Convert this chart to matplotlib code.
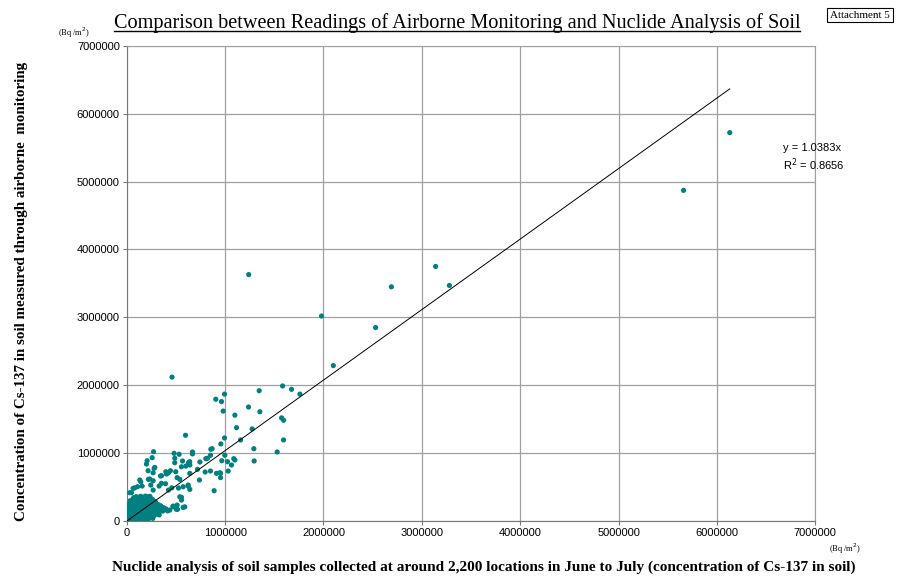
import matplotlib
matplotlib.use('Agg')
import matplotlib.pyplot as plt
from matplotlib.lines import Line2D

# values in thousands of Bq/m2 (soil analysis, airborne monitoring)
outlier_x = [6130, 5660, 3280, 3140, 2690, 2530, 2100, 1980, 1240, 460]
outlier_y = [5720, 4870, 3470, 3750, 3450, 2850, 2290, 3020, 3630, 2120]

mid_x = [1584, 1675, 1760, 1346, 994, 905, 963, 980, 1238, 1353, 1099, 1574, 1594,
         1116, 1275, 1157, 1594, 994, 956, 868, 1292, 1529, 668, 668, 851, 804,
         743, 966, 1088, 1295, 1065, 640,
         597, 272, 481, 532, 855, 207, 200, 258, 488, 488, 627, 641, 820, 278,
         397, 424, 343, 641, 539, 739, 851, 912, 946, 1031, 142, 220, 244, 353,
         48, 64, 109, 268, 624, 641, 888, 539, 556, 516, 573, 437, 471,
         600, 997, 1024, 953, 953, 797, 719, 567, 556, 498, 444, 512, 353, 329,
         394, 458, 424, 526, 573, 624, 556, 590, 505, 512, 471, 156, 81, 30,
         132, 234, 268, 285, 217, 268, 404, 1099]
mid_y = [1990, 1940, 1870, 1920, 1870, 1795, 1760, 1620, 1680, 1610, 1560, 1520, 1485,
         1376, 1357, 1195, 1195, 1224, 1136, 1066, 1066, 1018, 1018, 990, 969, 919,
         870, 889, 919, 885, 826, 875,
         1264, 1022, 998, 984, 1058, 889, 840, 934, 925, 860, 860, 826, 925, 777,
         727, 712, 664, 703, 615, 605, 737, 703, 712, 737, 580, 615, 531, 556,
         418, 482, 506, 457, 531, 467, 447, 358, 310, 173, 202, 162, 221,
         810, 970, 875, 703, 640, 723, 762, 885, 800, 727, 742, 640, 668, 516,
         550, 490, 457, 487, 506, 516, 350, 210, 173, 236, 210, 516, 490, 418,
         605, 620, 712, 790, 742, 594, 693, 900]

blob_x = [8, 25, 45, 62, 85, 110, 130, 150, 175, 195, 220, 240, 265,
          12, 35, 55, 78, 100, 122, 145, 168, 190, 212, 235, 258, 282, 305, 330,
          5, 22, 48, 70, 92, 115, 138, 160, 182, 205, 228, 250, 272, 295, 318, 342, 365, 388,
          15, 38, 60, 82, 105, 128, 150, 172, 195, 218, 240, 262, 285, 308, 330, 355, 378, 400, 415,
          10, 30, 52, 75, 98, 120, 142, 165, 188, 210, 232, 255, 278, 300, 322, 345,
          20, 42, 65, 88, 110, 132, 155, 178, 200, 222, 245, 268, 290,
          35, 58, 80, 102, 125, 148, 170, 192, 215, 238, 260,
          70, 95, 118, 140, 165, 190, 212, 235,
          60, 120, 180, 5, 3]
blob_y = [12, 30, 18, 40, 22, 35, 15, 42, 28, 50, 30, 55, 40,
          55, 70, 52, 75, 60, 80, 68, 90, 75, 95, 82, 100, 85, 105, 92,
          95, 110, 100, 125, 105, 130, 112, 138, 120, 145, 128, 150, 135, 155, 140, 160, 148, 170,
          150, 165, 145, 172, 155, 180, 162, 190, 172, 195, 178, 200, 185, 205, 188, 208, 195, 178, 150,
          200, 215, 195, 225, 205, 232, 212, 240, 222, 248, 230, 252, 235, 255, 240, 225,
          250, 268, 245, 275, 255, 282, 262, 290, 270, 295, 278, 300, 285,
          300, 318, 298, 325, 305, 330, 312, 338, 318, 340, 322,
          345, 360, 348, 365, 352, 368, 355, 365,
          5, 8, 10, 40, 150]

slope = 1.0383
r_squared = 0.8656
x_ticks = [0, 1000000, 2000000, 3000000, 4000000, 5000000, 6000000, 7000000]

teal = '#008080'
grid_c = '#a0a0a0'

all_x = [v * 1000 for v in blob_x + mid_x + outlier_x]
all_y = [v * 1000 for v in blob_y + mid_y + outlier_y]

fig = plt.figure(figsize=(9.12, 5.79), dpi=100)
ax = fig.add_axes([0.139, 0.100, 0.755, 0.821])

ax.scatter(all_x, all_y, s=14, color=teal, edgecolors='none', zorder=3)

x_max = max(all_x)
ax.plot([0, x_max], [0, slope * x_max], color='black', lw=0.7, zorder=4)

ax.set_xlim(0, 7000000)
ax.set_ylim(0, 7000000)
ax.set_xticks(x_ticks)
ax.set_yticks(x_ticks)
ax.set_xticklabels([str(t) for t in x_ticks])
ax.set_yticklabels([str(t) for t in x_ticks])
ax.grid(True, color=grid_c, lw=0.9, zorder=0)
for side in ['top', 'right']:
    ax.spines[side].set_color(grid_c)
for side in ['left', 'bottom']:
    ax.spines[side].set_color('#777777')
ax.tick_params(direction='out', length=3, width=0.8, color='#777777', pad=2,
               labelsize=8)
for lab in ax.get_xticklabels() + ax.get_yticklabels():
    lab.set_family('Liberation Sans')

# trendline label
ax.text(0.953, 0.795, 'y = 1.0383x\nR$^2$ = 0.8656', transform=ax.transAxes,
        ha='left', va='top', fontsize=8, family='Liberation Sans',
        linespacing=1.25, zorder=5)

serif = 'Liberation Serif'
title = fig.text(0.501, 0.952, 'Comparison between Readings of Airborne Monitoring and Nuclide Analysis of Soil',
                 ha='center', va='baseline', fontsize=14.6, family=serif)
fig.canvas.draw()
bb = title.get_window_extent().transformed(fig.transFigure.inverted())
fig.add_artist(Line2D([bb.x0, bb.x1], [0.946, 0.946], color='black', lw=1.0,
                      transform=fig.transFigure))

fig.text(0.943, 0.974, 'Attachment 5', ha='center', va='center', fontsize=8,
         family=serif,
         bbox=dict(boxstyle='square,pad=0.25', fc='white', ec='black', lw=0.8))

fig.text(0.081, 0.944, '(Bq /m$^2$)', ha='center', va='center', fontsize=6, family=serif)
fig.text(0.927, 0.053, '(Bq /m$^2$)', ha='center', va='center', fontsize=6, family=serif)

fig.text(0.024, 0.497, 'Concentration of Cs-137 in soil measured through airborne  monitoring',
         rotation=90, ha='center', va='center', fontsize=10.8, fontweight='bold', family=serif)
fig.text(0.530, 0.021, 'Nuclide analysis of soil samples collected at around 2,200 locations in June to July (concentration of Cs-137 in soil)',
         ha='center', va='center', fontsize=11, fontweight='bold', family=serif)

fig.savefig('out.png', dpi=100)
